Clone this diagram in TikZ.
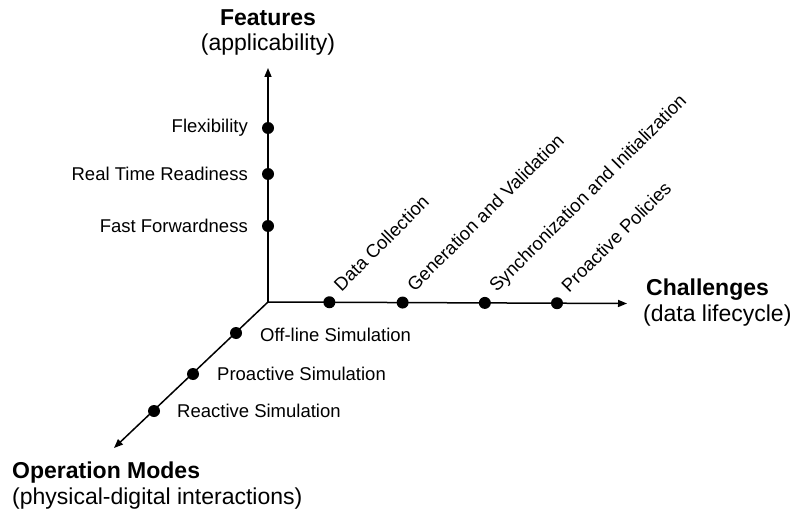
\documentclass[tikz,border=0pt]{standalone}
\usepackage{fontspec}
\setmainfont{Liberation Sans}
\usetikzlibrary{arrows.meta,calc}
\begin{document}
\begin{tikzpicture}[x=1pt,y=-1pt,
  axis/.style={line width=1.5pt,-{Triangle[length=9pt,width=7pt]}},
  pt/.style={circle,fill=black,inner sep=0pt,minimum size=12pt},
  lbl/.style={font=\fontsize{18.5}{20}\selectfont,inner sep=0pt},
  tilted/.style={lbl,anchor=base west,rotate=45},
  ttl/.style={font=\fontsize{23}{26}\selectfont\bfseries,inner sep=0pt},
  sub/.style={font=\fontsize{23}{26}\selectfont,inner sep=0pt}]
\useasboundingbox (0,0) rectangle (795,516);

% axes
\coordinate (O) at (268,302);
\coordinate (Ftop) at (268,68);
\coordinate (Cend) at (627,303.5);
\coordinate (Mend) at (114,448);
\draw[axis] (O) -- (Ftop);
\draw[axis] (O) -- (Cend);
\draw[axis] (O) -- (Mend);

% features axis
\node[pt] (f1) at (268,128) {};
\node[pt] (f2) at (268,174) {};
\node[pt] (f3) at (268,226) {};
\node[lbl,anchor=east] (lf1) at ($(f1)+(-20,0)$) {Flexibility};
\node[lbl,anchor=east] (lf2) at ($(f2)+(-20,0)$) {Real Time Readiness};
\node[lbl,anchor=east] (lf3) at ($(f3)+(-20,0)$) {Fast Forwardness};

% challenges axis
\node[pt] (c1) at ($(O)!0.171!(Cend)$) {};
\node[pt] (c2) at ($(O)!0.375!(Cend)$) {};
\node[pt] (c3) at ($(O)!0.604!(Cend)$) {};
\node[pt] (c4) at ($(O)!0.805!(Cend)$) {};
\node[tilted] (lc1) at ($(c1)+(12,-10)$) {Data Collection};
\node[tilted] (lc2) at ($(c2)+(12,-10)$) {Generation and Validation};
\node[tilted] (lc3) at ($(c3)+(12,-10)$) {Synchronization and Initialization};
\node[tilted] (lc4) at ($(c4)+(12,-10)$) {Proactive Policies};

% operation modes axis
\node[pt] (m1) at (236,333) {};
\node[pt] (m2) at (193,374) {};
\node[pt] (m3) at (154,411) {};
\node[lbl,anchor=west] (lm1) at (260,335) {Off-line Simulation};
\node[lbl,anchor=west] (lm2) at (217,374) {Proactive Simulation};
\node[lbl,anchor=west] (lm3) at (177,411) {Reactive Simulation};

% axis titles
\node[ttl] (tf) at (268,18) {Features};
\node[sub] (sf) at (268,45) {(applicability)};
\node[ttl,anchor=west] (tc) at (646,290) {Challenges};
\node[sub,anchor=west] (sc) at (643,316) {(data lifecycle)};
\node[ttl,anchor=west] (tm) at (12,473) {Operation Modes};
\node[sub,anchor=west] (sm) at (12,499) {(physical-digital interactions)};
\end{tikzpicture}
\end{document}
